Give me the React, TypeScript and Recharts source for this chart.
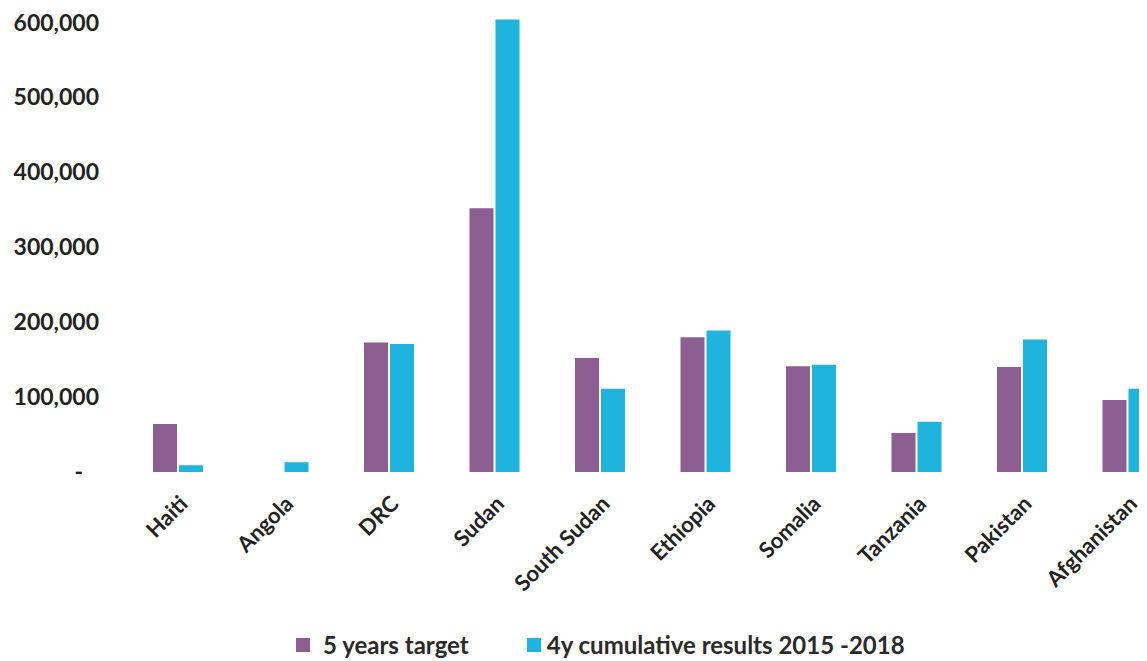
import { BarChart, Bar, XAxis, YAxis, Legend } from "recharts"

const countries = ["Haiti", "Angola", "DRC", "Sudan", "South Sudan", "Ethiopia", "Somalia", "Tanzania", "Pakistan", "Afghanistan"]
const target = [64000, 0, 173000, 352000, 152000, 180000, 141000, 52000, 140000, 96000]
const results = [9000, 13000, 171000, 604000, 111000, 189000, 143000, 67000, 177000, 111000]
const yTicks = [0, 100000, 200000, 300000, 400000, 500000, 600000]

const PURPLE = "#8C5E91"
const CYAN = "#1EB4DE"
const FONT = "Lato, 'Open Sans', sans-serif"

const data = countries.map((name, i) => ({ name, target: target[i], results: results[i] }))

const YTick = ({ x, y, payload }: any) => {
  const v = payload.value
  return (
    <text x={v === 0 ? x - 16 : x} y={y} dy="0.35em" textAnchor="end" fill="#222" fontFamily={FONT} fontWeight={700} fontSize={23}>
      {v === 0 ? "-" : v.toLocaleString("en-US")}
    </text>
  )
}

const XTick = ({ x, y, payload }: any) => (
  <g transform={`translate(${x},${y + 14})`}>
    <text x={0} y={0} dy={16} textAnchor="end" transform="rotate(-45)" fill="#222" fontFamily={FONT} fontWeight={700} fontSize={22}>
      {payload.value}
    </text>
  </g>
)

const renderLegend = () => (
  <div style={{ display: "flex", alignItems: "center", fontFamily: FONT, fontSize: 24, lineHeight: "29px", color: "#2a2a2a", fontWeight: 700 }}>
    <span style={{ width: 14, height: 14, background: PURPLE, display: "inline-block", marginRight: 13 }} />
    <span style={{ marginRight: 58 }}>5 years target</span>
    <span style={{ width: 14, height: 14, background: CYAN, display: "inline-block", marginRight: 6 }} />
    <span>4y cumulative results 2015 -2018</span>
  </div>
)

export default function App() {
  return (
    <div style={{ width: 1139, height: 653, overflow: "hidden", background: "#fff" }}>
      <BarChart width={1172} height={653} data={data} margin={{ top: 7, right: 0, left: 0, bottom: 0 }} barSize={24} barGap={2}>
        <XAxis dataKey="name" axisLine={false} tickLine={false} height={160} interval={0} tick={<XTick />} />
        <YAxis width={117} domain={[0, 610000]} ticks={yTicks} axisLine={false} tickLine={false} tickMargin={20} tick={<YTick />} />
        <Legend content={renderLegend} wrapperStyle={{ position: "absolute", left: 288, top: 622, width: 800 }} />
        <Bar dataKey="target" fill={PURPLE} isAnimationActive={false} />
        <Bar dataKey="results" fill={CYAN} isAnimationActive={false} />
      </BarChart>
    </div>
  )
}
